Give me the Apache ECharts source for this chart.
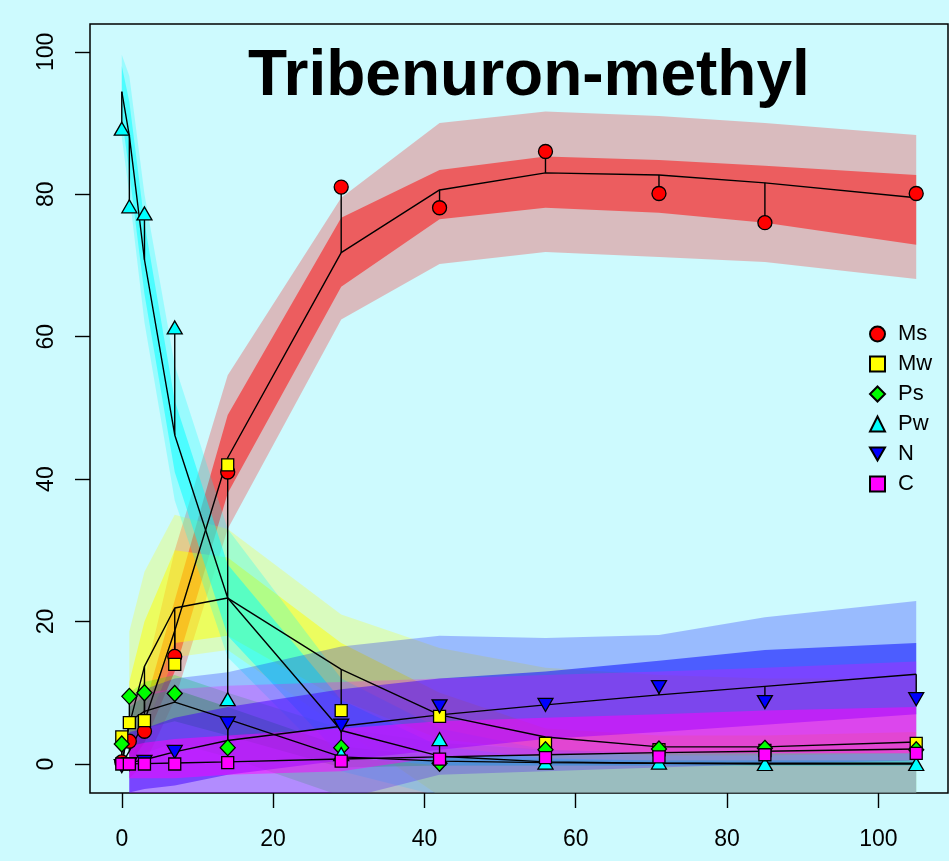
<!DOCTYPE html>
<html><head><meta charset="utf-8">
<script src="https://cdn.jsdelivr.net/npm/echarts@6/dist/echarts.min.js"></script>
<style>html,body{margin:0;padding:0;background:#cdfafe;}#c{width:949px;height:861px;}</style>
</head><body><div id="c"></div>
<script>
// ---- data ----
const times = [0, 1, 3, 7, 14, 29, 42, 56, 71, 85, 105];
const bandT = [1, 3, 7, 14, 29, 42, 56, 71, 85, 105];
const xTicks = [0, 20, 40, 60, 80, 100];
const yTicks = [0, 20, 40, 60, 80, 100];
const seriesNames = ['Ms', 'Mw', 'Ps', 'Pw', 'N', 'C'];

const msObs = [0.3, 3.2, 4.6, 15.1, 41.0, 81.0, 78.1, 86.0, 80.1, 76.0, 80.1];
const mwObs = [3.8, 5.8, 6.1, 14.0, 42.0, 7.5, 6.7, 2.9, 2.0, 1.9, 2.9];
const psObs = [2.8, 9.5, 10.0, 9.9, 2.3, 2.3, 0.1, 2.0, 2.1, 2.2, 2.0];
const pwObs = [89.2, 78.3, 77.3, 61.3, 9.1, 1.4, 3.5, 0.2, 0.2, 0.0, 0.0];
const nObs  = [-0.3, 0.0, 0.3, 1.7, 5.7, 5.4, 8.1, 8.3, 10.8, 8.7, 9.1];
const cObs  = [0.0, 0.0, 0.0, 0.0, 0.2, 0.4, 0.7, 0.9, 1.0, 1.3, 1.5];

const msFit = [0, 1.8, 6.0, 18.7, 43.0, 71.8, 80.6, 83.0, 82.7, 81.6, 79.5];
const mwFit = [0, 5.5, 13.7, 21.9, 23.3, 13.3, 6.9, 3.8, 2.4, 2.4, 3.1];
const psFit = [0, 6.0, 7.4, 8.7, 6.3, 1.0, 0.4, 0.2, 0.1, 0.1, 0.1];
const pwFit = [94.4, 88.2, 70.8, 46.2, 23.3, 4.7, 1.1, 0.3, 0.1, 0.0, 0.0];
const nFit  = [0, 0.2, 0.6, 1.7, 3.3, 5.3, 6.9, 8.3, 9.7, 10.9, 12.6];
const cFit  = [0, 0.02, 0.06, 0.15, 0.3, 0.7, 1.0, 1.3, 1.6, 1.8, 2.1];

// bands (outer / inner), on bandT except Pw on times
const msOutLo = [-2, 0, 9, 33, 62.4, 70.2, 71.9, 71.2, 70.5, 68.1];
const msOutHi = [5, 12, 30, 54.6, 79.5, 90.0, 91.6, 91.0, 90.0, 88.3];
const msInLo  = [0, 3, 13, 38, 67.0, 76.5, 78.1, 77.4, 76.0, 72.9];
const msInHi  = [3, 8, 23, 49, 76.7, 83.4, 85.3, 84.8, 84.0, 82.7];

const mwOutLo = [0, 5, 15, 16, 5, -4.5, -4.5, -4.5, -4.5, -4.5];
const mwOutHi = [18.6, 27, 35, 33, 21, 16.3, 13.5, 12.5, 12, 12];
const mwInLo  = [2.5, 8, 17, 18, 9, 3.5, 1.8, 1.2, 1.2, 1.5];
const mwInHi  = [11.5, 20, 30, 29, 17, 10, 5, 4, 4, 4.5];

const psOutLo = [0, 1.5, 3, 1, -4.5, -4.5, -4.5, -4.5, -4.5, -4.5];
const psOutHi = [10, 11.5, 12.5, 10, 5, 3, 2, 1.5, 1.5, 1.5];
const psInLo  = [3.5, 5, 6, 4, -0.5, -0.2, -0.2, -0.2, -0.2, -0.2];
const psInHi  = [8, 9.5, 10.5, 8, 2.5, 1.0, 0.6, 0.5, 0.5, 0.5];

const pwOutLo = [88, 80, 62, 37, 15, -1, -4.5, -4.5, -4.5, -4.5, -4.5];
const pwOutHi = [99.6, 96.6, 80, 56, 33, 12, 5, 2, 1.5, 1.5, 1.5];
const pwInLo  = [91, 83, 66, 41, 18, 1, -0.2, -0.2, -0.2, -0.2, -0.2];
const pwInHi  = [98, 93, 76, 51, 28, 9, 2.5, 0.8, 0.5, 0.5, 0.5];

const nOutLo = [-10, -9, -8, -7, -5, -1.5, -1, -0.5, 0, 0.5];
const nOutHi = [9.5, 10.5, 12, 12.9, 16.5, 18.0, 17.7, 18.1, 20.6, 22.9];
const nInLo  = [-4, -3.5, -3, -1.5, 0.5, 2, 3.5, 4.5, 5.5, 7.0];
const nInHi  = [4.5, 5, 6.5, 8, 10.5, 12, 13, 14.5, 16, 17.0];

const cOutLo = [-10, -10, -10, -10, -10, -10, -10, -10, -10, -10];
const cOutHi = [10, 10, 10.5, 11, 11.5, 12, 12.5, 13, 13.5, 14.4];
const cInLo  = [-2, -2, -2, -1.5, -1, 1, 1.3, 1.5, 1.5, 1.5];
const cInHi  = [2.5, 3, 3.5, 4, 5, 6, 6.5, 7, 7.5, 8.0];

// ---- build ----
const rgb = {Ms:'255,0,0', Mw:'255,255,0', Ps:'0,255,0', Pw:'0,255,255', N:'0,0,255', C:'255,0,255'};
const bands = [
  ['Ms', bandT, msOutLo, msOutHi, msInLo, msInHi],
  ['Mw', bandT, mwOutLo, mwOutHi, mwInLo, mwInHi],
  ['Ps', bandT, psOutLo, psOutHi, psInLo, psInHi],
  ['Pw', times, pwOutLo, pwOutHi, pwInLo, pwInHi],
  ['N',  bandT, nOutLo, nOutHi, nInLo, nInHi],
  ['C',  bandT, cOutLo, cOutHi, cInLo, cInHi]
];
const obs = {Ms:msObs, Mw:mwObs, Ps:psObs, Pw:pwObs, N:nObs, C:cObs};
const fit = {Ms:msFit, Mw:mwFit, Ps:psFit, Pw:pwFit, N:nFit, C:cFit};
const symbols = {
  Ms:{s:'circle', z:14},
  Mw:{s:'rect', z:12},
  Ps:{s:'diamond', z:[15,16]},
  Pw:{s:'triangle', z:[15,13]},
  N:{s:'path://M0,0L2,0L1,1.732Z', z:[15,13]},
  C:{s:'rect', z:12}
};
const fill = {Ms:'#ff0000', Mw:'#ffff00', Ps:'#00ff00', Pw:'#00ffff', N:'#0000ff', C:'#ff00ff'};

function bandSeries(tArr, lo, hi, color) {
  const rows = tArr.map((t, i) => [t, lo[i], hi[i]]);
  return {
    type: 'custom', silent: true, clip: true, z: 1,
    data: rows, encode: {x: 0, y: [1, 2]},
    renderItem: function (params, api) {
      if (params.dataIndex !== 0) return null;
      const pts = [];
      for (let i = 0; i < rows.length; i++) pts.push(api.coord([rows[i][0], rows[i][2]]));
      for (let i = rows.length - 1; i >= 0; i--) pts.push(api.coord([rows[i][0], rows[i][1]]));
      return {type: 'polygon', shape: {points: pts}, style: {fill: color, stroke: null}};
    }
  };
}

const series = [];
bands.forEach(b => {
  const [name, tArr, oLo, oHi, iLo, iHi] = b;
  series.push(bandSeries(tArr, oLo, oHi, 'rgba(' + rgb[name] + ',0.25)'));
  series.push(bandSeries(tArr, iLo, iHi, 'rgba(' + rgb[name] + ',0.5)'));
});
seriesNames.forEach(n => {
  series.push({
    type: 'line', silent: true, z: 3, showSymbol: false, symbol: 'none',
    data: times.map((t, i) => [t, fit[n][i]]),
    lineStyle: {color: '#000', width: 1.4}
  });
});
const resRows = [];
seriesNames.forEach(n => times.forEach((t, i) => resRows.push([t, obs[n][i], fit[n][i]])));
series.push({
  type: 'custom', silent: true, clip: true, z: 3,
  data: resRows, encode: {x: 0, y: [1, 2]},
  renderItem: function (params, api) {
    const a = api.coord([api.value(0), api.value(1)]);
    const b = api.coord([api.value(0), api.value(2)]);
    return {type: 'line', shape: {x1: a[0], y1: a[1], x2: b[0], y2: b[1]}, style: {stroke: '#000', lineWidth: 1.4}};
  }
});
seriesNames.forEach(n => {
  series.push({
    name: n, type: 'scatter', z: 5, silent: true,
    symbol: symbols[n].s, symbolSize: symbols[n].z,
    data: times.map((t, i) => [t, obs[n][i]]),
    itemStyle: {color: fill[n], borderColor: '#000', borderWidth: 1.3, opacity: 1}
  });
});

const chart = echarts.init(document.getElementById('c'), null, {renderer: 'canvas'});
const font = 'Liberation Sans, Arial, Helvetica, sans-serif';
chart.setOption({
  backgroundColor: '#cdfafe',
  animation: false,
  textStyle: {fontFamily: font},
  grid: {left: 90, right: 1, top: 24, bottom: 68, show: true, borderColor: '#000', borderWidth: 1.5, backgroundColor: 'transparent'},
  xAxis: {
    type: 'value', min: -4.2, max: 109.2,
    axisLine: {show: false, onZero: false},
    splitLine: {show: false},
    axisTick: {show: true, length: 15, lineStyle: {color: '#000', width: 1.4}, customValues: xTicks},
    axisLabel: {customValues: xTicks, fontSize: 23, color: '#000', margin: 35, fontFamily: font}
  },
  yAxis: {
    type: 'value', min: -4.07, max: 103.9,
    axisLine: {show: false, onZero: false},
    splitLine: {show: false},
    axisTick: {show: true, length: 15, lineStyle: {color: '#000', width: 1.4}, customValues: yTicks},
    axisLabel: {customValues: yTicks, fontSize: 23, color: '#000', margin: 32, rotate: 90, fontFamily: font}
  },
  legend: {
    orient: 'vertical', left: 864, top: 318, itemGap: 8, itemWidth: 15, itemHeight: 15,
    data: seriesNames, selectedMode: false,
    textStyle: {fontSize: 22, color: '#000', fontFamily: font, lineHeight: 22, padding: [0, 0, 0, 8]}
  },
  graphic: [{
    type: 'text', left: 248, top: 45, silent: true,
    style: {text: 'Tribenuron-methyl', font: 'bold 64px ' + font, fill: '#000'}
  }],
  series: series
});
</script></body></html>
